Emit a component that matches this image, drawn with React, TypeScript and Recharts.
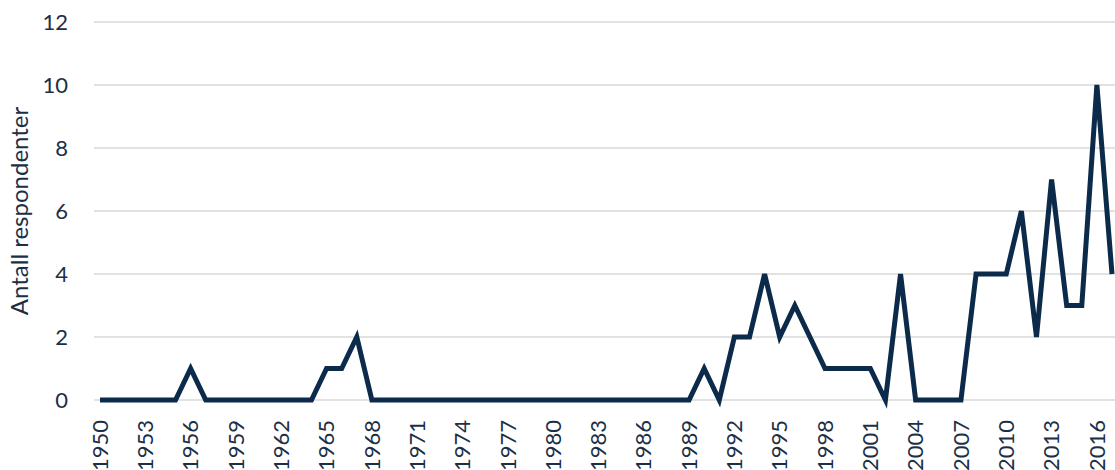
import React from 'react'
import { CartesianGrid, Line, LineChart, XAxis, YAxis } from 'recharts'

const years = [
  1950, 1951, 1952, 1953, 1954, 1955, 1956, 1957, 1958, 1959, 1960, 1961,
  1962, 1963, 1964, 1965, 1966, 1967, 1968, 1969, 1970, 1971, 1972, 1973,
  1974, 1975, 1976, 1977, 1978, 1979, 1980, 1981, 1982, 1983, 1984, 1985,
  1986, 1987, 1988, 1989, 1990, 1991, 1992, 1993, 1994, 1995, 1996, 1997,
  1998, 1999, 2000, 2001, 2002, 2003, 2004, 2005, 2006, 2007, 2008, 2009,
  2010, 2011, 2012, 2013, 2014, 2015, 2016, 2017,
]

const respondents = [
  0, 0, 0, 0, 0, 0, 1, 0, 0, 0, 0, 0,
  0, 0, 0, 1, 1, 2, 0, 0, 0, 0, 0, 0,
  0, 0, 0, 0, 0, 0, 0, 0, 0, 0, 0, 0,
  0, 0, 0, 0, 1, 0, 2, 2, 4, 2, 3, 2,
  1, 1, 1, 1, 0, 4, 0, 0, 0, 0, 4, 4,
  4, 6, 2, 7, 3, 3, 10, 4,
]

const xTicks = [
  1950, 1953, 1956, 1959, 1962, 1965, 1968, 1971, 1974, 1977, 1980, 1983,
  1986, 1989, 1992, 1995, 1998, 2001, 2004, 2007, 2010, 2013, 2016,
]
const yTicks = [0, 2, 4, 6, 8, 10, 12]

const TEXT_COLOR = '#1b2f47'
const LINE_COLOR = '#0c2a4a'
const FONT = 'Lato, "Open Sans", sans-serif'

const data = years.map((year, i) => ({ year, value: respondents[i] }))

// rotated year labels, reading bottom to top
const renderYearTick = (props: any) => {
  const { x, y, payload } = props
  return (
    <g transform={`translate(${x},${Number(y) + 18})`}>
      <text
        x={0}
        y={0}
        transform='rotate(-90)'
        textAnchor='end'
        dy='0.35em'
        fill={TEXT_COLOR}
        fontSize={22}
        fontFamily={FONT}
      >
        {payload.value}
      </text>
    </g>
  )
}

const App = () => (
  <div style={{ position: 'absolute', left: 0, top: 0 }}>
    <LineChart
      width={1115}
      height={470}
      data={data}
      margin={{ top: 22, right: 0, bottom: 0, left: 0 }}
    >
      <CartesianGrid vertical={false} stroke='#d9d9d9' strokeWidth={1.5} />
      <XAxis
        dataKey='year'
        type='number'
        domain={[1950, 2017]}
        ticks={xTicks}
        interval={0}
        padding={{ left: 6, right: 3 }}
        axisLine={false}
        tickLine={false}
        tickSize={0}
        height={70}
        tick={renderYearTick}
      />
      <YAxis
        domain={[0, 12]}
        ticks={yTicks}
        width={94}
        axisLine={false}
        tickLine={false}
        tickSize={0}
        tickMargin={26}
        tick={{ fill: TEXT_COLOR, fontSize: 22, fontFamily: FONT }}
        label={{
          content: ({ viewBox }: any) => (
            <text
              transform={`translate(${viewBox.x + 20},${viewBox.y + viewBox.height / 2}) rotate(-90)`}
              textAnchor='middle'
              dy='0.35em'
              fill={TEXT_COLOR}
              fontSize={24}
              fontFamily={FONT}
            >
              Antall respondenter
            </text>
          ),
        }}
      />
      <Line
        dataKey='value'
        stroke={LINE_COLOR}
        strokeWidth={5}
        dot={false}
        strokeLinejoin='miter'
        isAnimationActive={false}
      />
    </LineChart>
  </div>
)

export default App
